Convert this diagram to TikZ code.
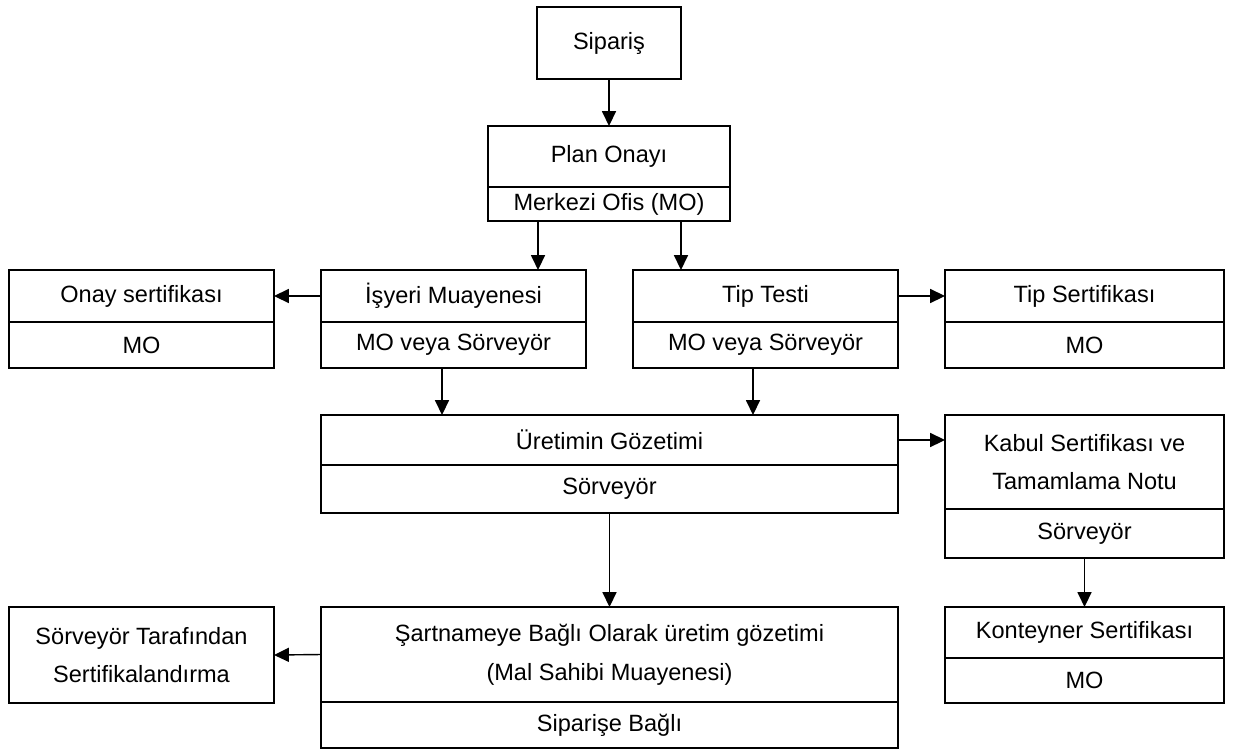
\documentclass[tikz,border=0pt]{standalone}
\usepackage{fontspec}
\setmainfont{Liberation Sans}
\usetikzlibrary{arrows.meta,positioning}

\tikzset{
	kutu/.style={draw, line width=1.5pt, inner sep=0pt, outer sep=0pt, align=center,
		font=\fontsize{13.4}{22}\selectfont},
	ok/.style={line width=0.8pt, -{Triangle[length=8.5pt,width=8pt]}}
}

\begin{document}
\begin{tikzpicture}[x=0.02cm, y=-0.02cm]
	
	\useasboundingbox (0,0) rectangle (1233,751);
	
	% Sipariş ve Plan Onayı
	\node[kutu, minimum width=2.88cm, minimum height=1.44cm] (sip) at (609,43) {Sipariş};
	\node[kutu, minimum width=4.84cm, minimum height=1.22cm] (planT) at (609,156.5) {Plan Onayı};
	\node[kutu, minimum width=4.84cm, minimum height=0.68cm, below=0pt of planT] (planB) {Merkezi Ofis (MO)};
	
	% İkinci sıra
	\node[kutu, minimum width=5.3cm, minimum height=1.04cm] (onayT) at (141.5,296) {Onay sertifikası};
	\node[kutu, minimum width=5.3cm, minimum height=0.92cm, below=0pt of onayT] (onayB) {MO};
	
	\node[kutu, minimum width=5.3cm, minimum height=1.04cm] (isyeriT) at (453.5,296) {İşyeri Muayenesi};
	\node[kutu, minimum width=5.3cm, minimum height=0.92cm, below=0pt of isyeriT] (isyeriB) {MO veya Sörveyör};
	
	\node[kutu, minimum width=5.3cm, minimum height=1.04cm] (tipT) at (765.5,296) {Tip Testi};
	\node[kutu, minimum width=5.3cm, minimum height=0.92cm, below=0pt of tipT] (tipB) {MO veya Sörveyör};
	
	\node[kutu, minimum width=5.58cm, minimum height=1.04cm] (tipsT) at (1084.5,296) {Tip Sertifikası};
	\node[kutu, minimum width=5.58cm, minimum height=0.92cm, below=0pt of tipsT] (tipsB) {MO};
	
	% Üçüncü sıra
	\node[kutu, minimum width=11.54cm, minimum height=1.0cm] (uretimT) at (609.5,440) {Üretimin Gözetimi};
	\node[kutu, minimum width=11.54cm, minimum height=0.96cm, below=0pt of uretimT] (uretimB) {Sörveyör};
	
	\node[kutu, minimum width=5.58cm, minimum height=1.88cm] (kabulT) at (1084.5,462) {Kabul Sertifikası ve\\Tamamlama Notu};
	\node[kutu, minimum width=5.58cm, minimum height=0.98cm, below=0pt of kabulT] (kabulB) {Sörveyör};
	
	% Dördüncü sıra
	\node[kutu, minimum width=5.3cm, minimum height=1.92cm] (sorv) at (141.5,655) {Sörveyör Tarafından\\Sertifikalandırma};
	
	\node[kutu, minimum width=11.54cm, minimum height=1.9cm] (sartT) at (609.5,654.5) {Şartnameye Bağlı Olarak üretim gözetimi\\(Mal Sahibi Muayenesi)};
	\node[kutu, minimum width=11.54cm, minimum height=0.92cm, below=0pt of sartT] (sartB) {Siparişe Bağlı};
	
	\node[kutu, minimum width=5.58cm, minimum height=1.02cm] (konT) at (1084.5,632.5) {Konteyner Sertifikası};
	\node[kutu, minimum width=5.58cm, minimum height=0.9cm, below=0pt of konT] (konB) {MO};
	
	% Oklar
	\draw[ok] (sip) -- (planT);
	\draw[ok] ([xshift=-1.42cm]planB.south) -- ([xshift=-1.42cm]planB.south |- isyeriT.north);
	\draw[ok] ([xshift=1.44cm]planB.south) -- ([xshift=1.44cm]planB.south |- tipT.north);
	\draw[ok] (isyeriT.west) -- (onayT.east);
	\draw[ok] (tipT.east) -- (tipsT.west);
	%
	\draw[ok] ([xshift=-0.23cm]isyeriB.south) -- ([xshift=-0.23cm]isyeriB.south |- uretimT.north);
	\draw[ok] ([xshift=-0.25cm]tipB.south) -- ([xshift=-0.25cm]tipB.south |- uretimT.north);
	\draw[ok] (uretimT.east) -- (uretimT.east -| kabulT.west);
	%
	\draw[ok] (uretimB.south) -- (sartT.north);
	\draw[ok] (kabulB.south) -- (konT.north);
	\draw[ok] (sartT.west) -- (sorv.east);
	
\end{tikzpicture}
\end{document}
